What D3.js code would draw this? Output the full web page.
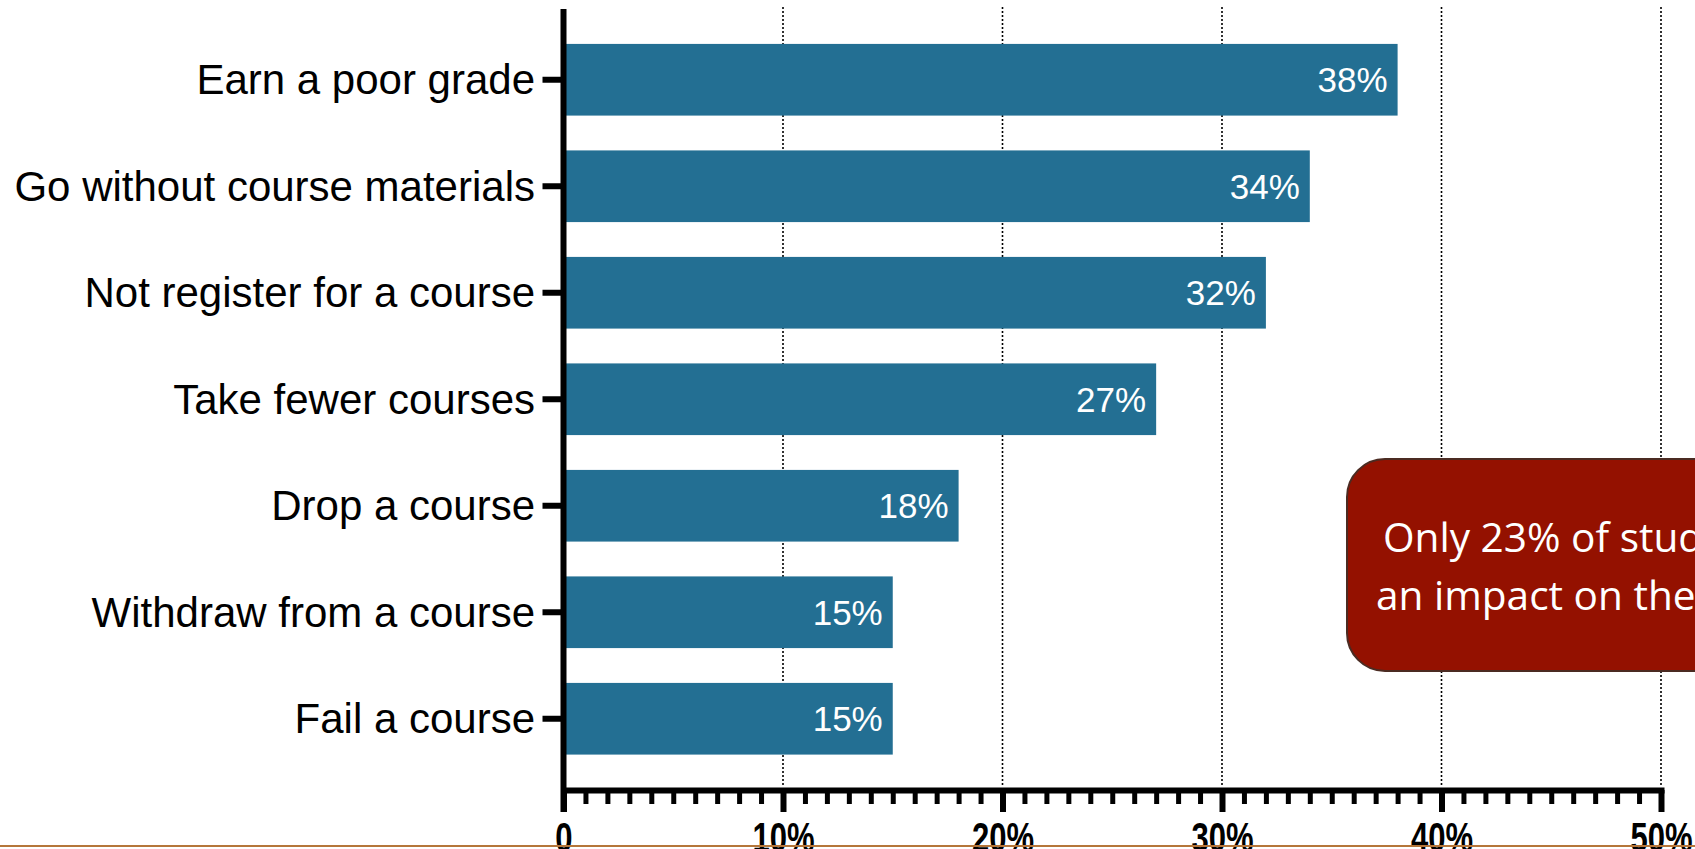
<!DOCTYPE html>
<html>
<head>
<meta charset="utf-8">
<script src="https://cdn.jsdelivr.net/npm/d3@7"></script>
<style>
  body { margin: 0; background: #fff; }
  svg { display: block; }
</style>
</head>
<body>
<div class="plot"></div>
<script>
// DATA
var categories = [
  "Earn a poor grade",
  "Go without course materials",
  "Not register for a course",
  "Take fewer courses",
  "Drop a course",
  "Withdraw from a course",
  "Fail a course"
];
var values = [38, 34, 32, 27, 18, 15, 15];
var majorTicks = [0, 10, 20, 30, 40, 50];
var tickLabels = ["0", "10%", "20%", "30%", "40%", "50%"];
var calloutLines = [
  "Only 23% of students said the cost did not have",
  "an impact on their academic success"
];

// GLOBAL VARIABLES
var w = 1695;
var h = 849;
var barColor = "#236f93";
var axisY = 790;

var svg = d3.select(".plot").append("svg").attr("width", w).attr("height", h);

// SCALES
var xScale = d3.scaleLinear()
  .domain([0, 50])
  .range([563.5, 1661]);

var yScale = d3.scaleBand()
  .domain(categories)
  .range([26.5, 772])
  .paddingInner(0.327)
  .paddingOuter(0.1635);

// GRIDLINES
svg.append("g")
  .attr("class", "grid")
  .selectAll("line")
  .data(majorTicks.slice(1))
  .enter()
  .append("line")
  .attr("x1", function (d) { return xScale(d); })
  .attr("x2", function (d) { return xScale(d); })
  .attr("y1", 7)
  .attr("y2", axisY - 3)
  .attr("stroke", "#000")
  .attr("stroke-width", 1.6)
  .attr("stroke-dasharray", "2,2");

// BARS
svg.append("g")
  .selectAll("rect")
  .data(values)
  .enter()
  .append("rect")
  .attr("x", xScale(0))
  .attr("y", function (d, i) { return yScale(categories[i]); })
  .attr("width", function (d) { return xScale(d) - xScale(0); })
  .attr("height", yScale.bandwidth())
  .attr("fill", barColor);

// BAR LABELS
svg.append("g")
  .selectAll("text")
  .data(values)
  .enter()
  .append("text")
  .attr("x", function (d) { return xScale(d) - 10; })
  .attr("y", function (d, i) { return yScale(categories[i]) + yScale.bandwidth() / 2; })
  .attr("dy", "0.36em")
  .attr("text-anchor", "end")
  .attr("font-family", "Liberation Sans, Arial, sans-serif")
  .attr("font-size", "35px")
  .attr("fill", "#fff")
  .text(function (d) { return d + "%"; });

// Y AXIS
var yAxis = d3.axisLeft(yScale)
  .tickSize(21)
  .tickSizeOuter(0)
  .tickPadding(7.5);

var yG = svg.append("g")
  .attr("class", "axis y")
  .attr("transform", "translate(" + xScale(0) + ",0)")
  .call(yAxis);

yG.select(".domain").remove();
yG.selectAll(".tick line").attr("stroke", "#000").attr("stroke-width", 6);
yG.selectAll(".tick text")
  .attr("dy", "0.35em")
  .attr("font-family", "Liberation Sans, Arial, sans-serif")
  .attr("font-size", "42px")
  .attr("fill", "#000");

yG.append("line")
  .attr("x1", 0)
  .attr("x2", 0)
  .attr("y1", 9)
  .attr("y2", 812)
  .attr("stroke", "#000")
  .attr("stroke-width", 6);

// X AXIS - minor ticks every 1%
var xMinor = d3.axisBottom(xScale)
  .tickValues(d3.range(0, 51))
  .tickSize(14)
  .tickSizeOuter(0)
  .tickFormat("");

var xMinorG = svg.append("g")
  .attr("class", "axis x minor")
  .attr("transform", "translate(0," + axisY + ")")
  .call(xMinor);

xMinorG.select(".domain")
  .attr("stroke", "#000")
  .attr("stroke-width", 6)
  .attr("stroke-linecap", "square");
xMinorG.selectAll(".tick line").attr("stroke", "#000").attr("stroke-width", 5);

// X AXIS - major ticks every 10%
var xMajor = d3.axisBottom(xScale)
  .tickValues(majorTicks)
  .tickSize(22)
  .tickSizeOuter(0)
  .tickFormat(function (d, i) { return tickLabels[i]; });

var xMajorG = svg.append("g")
  .attr("class", "axis x major")
  .attr("transform", "translate(0," + axisY + ")")
  .call(xMajor);

xMajorG.select(".domain").remove();
xMajorG.selectAll(".tick line").attr("stroke", "#000").attr("stroke-width", 6);
xMajorG.selectAll(".tick text")
  .attr("y", 32)
  .attr("dy", "0.71em")
  .attr("transform", "scale(0.74,1)")
  .attr("font-family", "Liberation Sans, Arial, sans-serif")
  .attr("font-weight", "bold")
  .attr("font-size", "42px")
  .attr("fill", "#000");

// CALLOUT
var callout = svg.append("g").attr("class", "callout");

callout.append("rect")
  .attr("x", 1347)
  .attr("y", 459)
  .attr("width", 600)
  .attr("height", 212)
  .attr("rx", 38)
  .attr("ry", 38)
  .attr("fill", "#941100")
  .attr("stroke", "#4b2b22")
  .attr("stroke-width", 2);

callout.selectAll("text")
  .data(calloutLines)
  .enter()
  .append("text")
  .attr("x", function (d, i) { return i === 0 ? 1383 : 1376; })
  .attr("y", function (d, i) { return 552 + i * 58; })
  .attr("font-family", "Open Sans, sans-serif")
  .attr("font-size", "40.6px")
  .attr("fill", "#fff")
  .text(function (d) { return d; });

// BOTTOM RULE
svg.append("rect")
  .attr("x", 0)
  .attr("y", 845)
  .attr("width", w)
  .attr("height", 2)
  .attr("fill", "#b5763a");
</script>
</body>
</html>
